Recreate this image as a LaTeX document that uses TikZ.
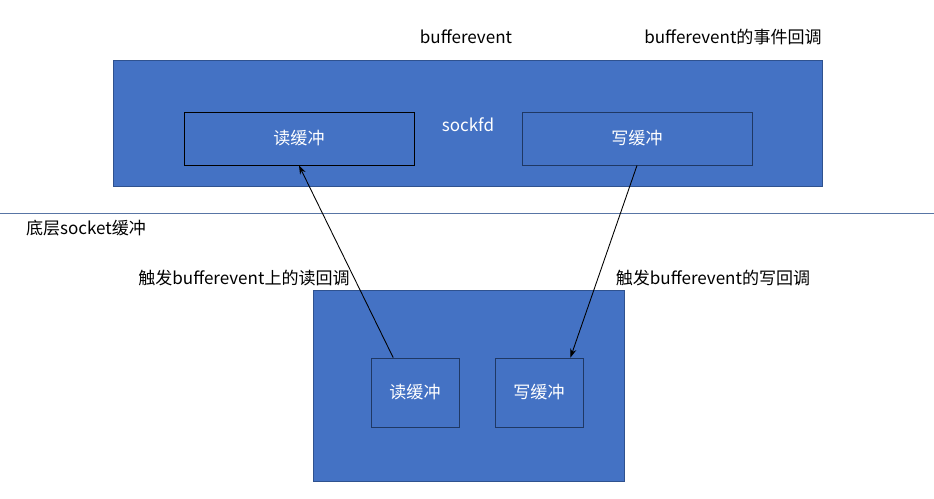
\documentclass[tikz,border=0pt]{standalone}
\usepackage{fontspec}
\setmainfont{Noto Sans CJK SC}
\definecolor{boxblue}{RGB}{68,114,196}
\definecolor{edgeblue}{RGB}{47,82,143}
\definecolor{darkedge}{RGB}{31,56,100}
\usetikzlibrary{arrows.meta,positioning}

\begin{document}
\begin{tikzpicture}[
  x=0.02cm, y=-0.02cm,
  every node/.style={font=\fontsize{9.7pt}{11pt}\selectfont},
  bigbox/.style={draw=edgeblue,fill=boxblue,line width=0.5pt},
  bufbox/.style={draw=darkedge,fill=boxblue,line width=0.5pt,text=white},
  note/.style={text=black},
  trigger/.style={-{Stealth[length=5pt,width=3.5pt]},line width=0.5pt,black},
]
  \useasboundingbox (0,0) rectangle (934,498);

  % Upper layer: bufferevent
  \node[bigbox,minimum width=14.2cm,minimum height=2.52cm] (top) at (468,123) {};
  \node[bufbox,draw=black,minimum width=4.6cm,minimum height=1.06cm] (readtop) at (299,138.5) {读缓冲};
  \node[bufbox,minimum width=4.6cm,minimum height=1.06cm] (writetop) at (637,138.5) {写缓冲};
  \node[text=white] (sockfd) at (468,125) {sockfd};
  \node[note] (bevlabel) at (466,37) {bufferevent};
  \node[note] (evcb) at (733,37) {bufferevent的事件回调};

  % Separator
  \coordinate (sepl) at (0,213);
  \coordinate (sepr) at (934,213);
  \draw[edgeblue!80,line width=0.5pt] (sepl) -- (sepr);
  \node[note] (lowlabel) at (86,228) {底层socket缓冲};

  % Lower layer: socket buffers
  \node[bigbox,minimum width=6.22cm,minimum height=3.82cm] (bottom) at (468.5,385.5) {};
  \node[bufbox,minimum width=1.76cm,minimum height=1.38cm] (readbot) at (415,392.5) {读缓冲};
  \node[bufbox,minimum width=1.76cm,minimum height=1.38cm] (writebot) at (539,392.5) {写缓冲};

  % Callbacks
  \draw[trigger] (readbot.122) -- (readtop.south);
  \draw[trigger] (writetop.south) -- (writebot.48);
  \node[note] (readcb) at (244,278) {触发bufferevent上的读回调};
  \node[note] (writecb) at (713,278) {触发bufferevent的写回调};
\end{tikzpicture}
\end{document}
